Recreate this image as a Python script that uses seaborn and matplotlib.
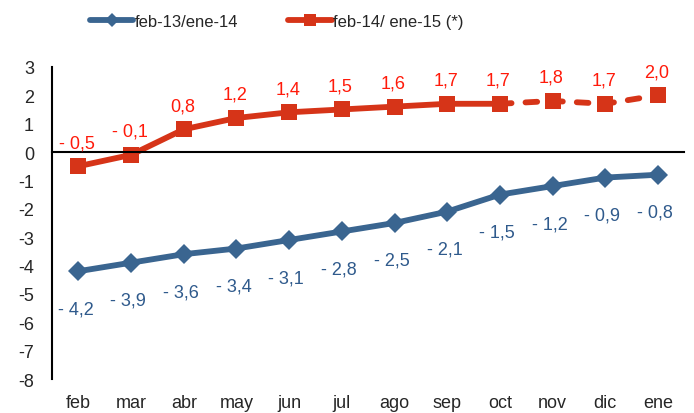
"""Variación interanual: feb-13/ene-14 vs feb-14/ene-15."""

import matplotlib.pyplot as plt
import matplotlib.transforms as mtransforms
from matplotlib.lines import Line2D
import pandas as pd
import seaborn as sns

months = ["feb", "mar", "abr", "may", "jun", "jul", "ago", "sep", "oct", "nov", "dic", "ene"]
serie_13_14 = [-4.2, -3.9, -3.6, -3.4, -3.1, -2.8, -2.5, -2.1, -1.5, -1.2, -0.9, -0.8]
serie_14_15 = [-0.5, -0.1, 0.8, 1.2, 1.4, 1.5, 1.6, 1.7, 1.7, 1.8, 1.7, 2.0]
label_13_14 = "feb-13/ene-14"
legend_14_15 = "feb-14/ ene-15 (*)"
n_solid = 9  # feb..oct definitive, nov..ene provisional (dashed)

BLUE = "#3A6590"
BLUE_TXT = "#2F5A8C"
RED = "#D63418"
RED_TXT = "#FF1A0A"

sns.set_style("white")
plt.rcParams["font.family"] = ["Liberation Sans", "DejaVu Sans"]
plt.rcParams["font.size"] = 12

df = pd.DataFrame({"x": range(len(months)), "mes": months,
                   "a": serie_13_14, "b": serie_14_15})

fig, ax = plt.subplots(figsize=(6.94, 4.14), dpi=100)
fig.subplots_adjust(left=0.075, right=0.986, top=0.836, bottom=0.082)

sns.lineplot(data=df, x="x", y="a", ax=ax, color=BLUE, linewidth=4.2,
             marker="D", markersize=10, markeredgewidth=0,
             solid_capstyle="round", solid_joinstyle="round")
sns.lineplot(data=df.iloc[:n_solid], x="x", y="b", ax=ax, color=RED, linewidth=4.2,
             marker="s", markersize=11, markeredgewidth=0,
             solid_capstyle="round", solid_joinstyle="round")
sns.lineplot(data=df.iloc[n_solid - 1:], x="x", y="b", ax=ax, color=RED, linewidth=4.2,
             linestyle=(0, (2.0, 2.4)), dash_capstyle="round",
             marker="s", markersize=11, markeredgewidth=0)


def fmt(v):
    s = f"{abs(v):.1f}".replace(".", ",")
    return f"- {s}" if v < 0 else s


for x, v in zip(df["x"], df["a"]):
    ax.annotate(fmt(v), (x, v), xytext=(-2, -27), textcoords="offset points",
                ha="center", va="center", color=BLUE_TXT, fontsize=13)
for x, v in zip(df["x"], df["b"]):
    ax.annotate(fmt(v), (x, v), xytext=(-1, 17), textcoords="offset points",
                ha="center", va="center", color=RED_TXT, fontsize=13)

ax.set_xlim(-0.5, len(months) - 0.5)
ax.set_ylim(-8, 3)
ax.set_yticks(range(-8, 4))
ax.set_yticklabels([str(t) for t in range(-8, 4)])
ax.set(xlabel="", ylabel="")

# category axis crossing at zero, labels at the bottom
ax.spines["bottom"].set_position(("data", 0))
ax.set_xticks([i - 0.5 for i in range(len(months) + 1)])
ax.set_xticklabels([])
for side in ("top", "right"):
    ax.spines[side].set_visible(False)
for side in ("left", "bottom"):
    ax.spines[side].set_color("black")
    ax.spines[side].set_linewidth(1.5)
ax.tick_params(axis="both", direction="out", length=5, width=1.5, color="black")
ax.tick_params(axis="y", labelsize=13, pad=8)

trans = mtransforms.blended_transform_factory(ax.transData, ax.transAxes)
for i, m in enumerate(months):
    ax.text(i, -0.075, m, transform=trans, ha="center", va="center", fontsize=13)

handles = [
    Line2D([], [], color=BLUE, linewidth=4.2, marker="D", markersize=7,
           markeredgewidth=0, solid_capstyle="round"),
    Line2D([], [], color=RED, linewidth=4.2, marker="s", markersize=8,
           markeredgewidth=0, solid_capstyle="round"),
]
fig.legend(handles, [label_13_14, legend_14_15], loc="center left",
           bbox_to_anchor=(0.108, 0.945), ncol=2, frameon=False, fontsize=12,
           handlelength=2.6, handletextpad=0.1, columnspacing=3.0)

fig.savefig("out.png", dpi=100)
